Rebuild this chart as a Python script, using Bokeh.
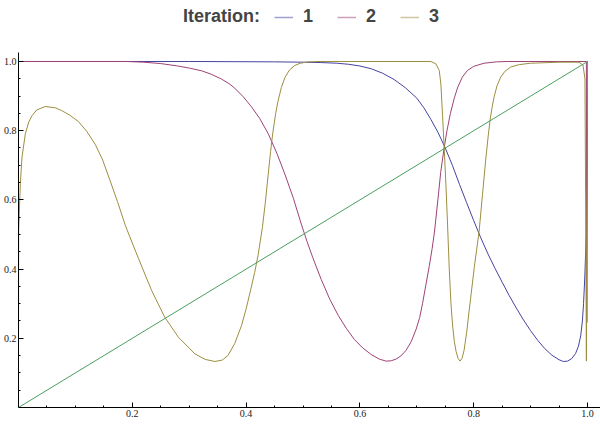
from bokeh.plotting import figure
from bokeh.models import Range1d, FixedTicker, Legend, LegendItem
from bokeh.embed import file_html
from bokeh.resources import INLINE

# ---- data ----
series_names = ["1", "2", "3"]

x1 = [0.0, 0.3, 0.45, 0.5, 0.53, 0.56, 0.58, 0.60, 0.62, 0.64, 0.66, 0.68, 0.70, 0.7125,
      0.725, 0.7375, 0.75, 0.7625, 0.775, 0.7875, 0.80, 0.8125, 0.825, 0.8375, 0.85,
      0.8625, 0.875, 0.8875, 0.90, 0.9125, 0.925, 0.9375, 0.95, 0.9575, 0.965, 0.972,
      0.979, 0.984, 0.988, 0.991, 0.993, 0.9953, 0.9977, 0.9992, 1.0]
y1 = [1.0, 1.0, 0.999, 0.998, 0.997, 0.995, 0.992, 0.987, 0.979, 0.966, 0.948, 0.924,
      0.894, 0.866, 0.832, 0.794, 0.75, 0.70, 0.645, 0.592, 0.54, 0.49, 0.444, 0.402,
      0.362, 0.323, 0.287, 0.253, 0.222, 0.194, 0.170, 0.151, 0.138, 0.133, 0.134, 0.141,
      0.156, 0.177, 0.207, 0.25, 0.30, 0.38, 0.5, 0.75, 1.0]

x2 = [0.0, 0.19, 0.22, 0.25, 0.28, 0.30, 0.322, 0.339, 0.357, 0.37, 0.38, 0.395, 0.409,
      0.424, 0.439, 0.454, 0.468, 0.483, 0.497, 0.507, 0.517, 0.532, 0.547, 0.562, 0.576,
      0.59, 0.605, 0.62, 0.634, 0.646, 0.655, 0.6635, 0.672, 0.681, 0.69, 0.699, 0.705,
      0.710, 0.716, 0.722, 0.727, 0.731, 0.737, 0.742, 0.748, 0.753, 0.759, 0.766, 0.772,
      0.78, 0.789, 0.80, 0.818, 0.84, 0.859, 0.998, 0.9988, 1.0]
y2 = [1.0, 1.0, 0.998, 0.994, 0.987, 0.981, 0.973, 0.963, 0.949, 0.936, 0.923, 0.898,
      0.870, 0.835, 0.791, 0.735, 0.675, 0.605, 0.53, 0.48, 0.434, 0.37, 0.313, 0.266,
      0.229, 0.197, 0.172, 0.153, 0.14, 0.134, 0.135, 0.14, 0.149, 0.165, 0.19, 0.227,
      0.26, 0.30, 0.355, 0.41, 0.46, 0.507, 0.60, 0.68, 0.75, 0.80, 0.85, 0.895, 0.926,
      0.955, 0.974, 0.986, 0.995, 0.999, 1.0, 1.0, 0.245, 1.0]

x3 = [0.0, 0.0003, 0.0032, 0.0061, 0.012, 0.018, 0.024, 0.032, 0.047, 0.065, 0.076, 0.09,
      0.105, 0.12, 0.135, 0.148, 0.16, 0.174, 0.188, 0.211, 0.234, 0.257, 0.281, 0.310,
      0.328, 0.345, 0.358, 0.368, 0.38, 0.392, 0.40, 0.408, 0.415, 0.421, 0.4286, 0.4336,
      0.4386, 0.443, 0.447, 0.452, 0.456, 0.462, 0.468, 0.476, 0.485, 0.495, 0.509, 0.53,
      0.7248, 0.7336, 0.7394, 0.7423, 0.7452, 0.7481, 0.7511, 0.754, 0.757, 0.760, 0.763,
      0.766, 0.769, 0.7725, 0.776, 0.7795, 0.783, 0.7875, 0.792, 0.801, 0.8095, 0.8154,
      0.821, 0.8255, 0.8287, 0.832, 0.8357, 0.841, 0.8475, 0.855, 0.865, 0.88, 0.9, 0.95,
      0.985, 0.992, 0.9955, 0.997, 0.998, 0.999, 1.0]
y3 = [0.2, 0.51, 0.647, 0.723, 0.791, 0.825, 0.844, 0.860, 0.870, 0.866, 0.858, 0.845,
      0.827, 0.798, 0.76, 0.715, 0.66, 0.595, 0.525, 0.43, 0.338, 0.261, 0.203, 0.155,
      0.139, 0.133, 0.137, 0.150, 0.185, 0.237, 0.285, 0.34, 0.39, 0.44, 0.52, 0.59,
      0.67, 0.74, 0.795, 0.85, 0.885, 0.925, 0.953, 0.975, 0.988, 0.995, 0.999, 1.0,
      1.0, 0.993, 0.974, 0.935, 0.845, 0.75, 0.645, 0.53, 0.40, 0.30, 0.235,
      0.19, 0.162, 0.142, 0.134, 0.142, 0.165, 0.215, 0.28, 0.405, 0.51, 0.615,
      0.715, 0.785, 0.83, 0.865, 0.897, 0.93, 0.955, 0.972, 0.984, 0.991, 0.995, 0.998,
      0.998, 0.99, 0.95, 0.5, 0.134, 0.6, 1.0]

diag_x = [0.0, 1.0]
diag_y = [0.0, 1.0]

x_ticks = [0.2, 0.4, 0.6, 0.8, 1.0]
x_tick_labels = ["0.2", "0.4", "0.6", "0.8", "1.0"]
y_ticks = [0.2, 0.4, 0.6, 0.8, 1.0]
y_tick_labels = ["0.2", "0.4", "0.6", "0.8", "1.0"]
minor_ticks = [0.05, 0.1, 0.15, 0.25, 0.3, 0.35, 0.45, 0.5, 0.55, 0.65, 0.7, 0.75,
               0.85, 0.9, 0.95]

legend_title = "Iteration:"

# ---- styling ----
C1 = "#45439f"
C2 = "#9e4276"
C3 = "#9c8e40"
CG = "#4a9f5f"

p = figure(width=600, height=424, output_backend="svg", toolbar_location=None,
           x_range=Range1d(0, 1.0228), y_range=Range1d(0, 1.1763),
           min_border_left=17, min_border_right=0, min_border_top=0,
           min_border_bottom=17)
p.title.visible = False
p.outline_line_color = None
p.xgrid.visible = False
p.ygrid.visible = False
p.background_fill_color = "white"
p.border_fill_color = "white"

for ax in (p.xaxis[0], p.yaxis[0]):
    ax.axis_line_color = "black"
    ax.axis_line_width = 1
    ax.major_tick_in = 5
    ax.major_tick_out = 0
    ax.minor_tick_in = 2
    ax.minor_tick_out = 0
    ax.major_tick_line_color = "black"
    ax.minor_tick_line_color = "black"
    ax.major_label_text_font = "Liberation Serif"
    ax.major_label_text_font_size = "10px"
    ax.major_label_text_color = "#1a1a1a"
    ax.major_label_standoff = 2

p.yaxis[0].bounds = (0, 1.026)
p.xaxis[0].ticker = FixedTicker(ticks=x_ticks, minor_ticks=minor_ticks)
p.yaxis[0].ticker = FixedTicker(ticks=y_ticks, minor_ticks=minor_ticks)
p.xaxis[0].major_label_overrides = dict(zip(x_ticks, x_tick_labels))
p.yaxis[0].major_label_overrides = dict(zip(y_ticks, y_tick_labels))

p.line(x1, y1, line_color=C1, line_width=1.0)
p.line(x2, y2, line_color=C2, line_width=1.0)
p.line(x3, y3, line_color=C3, line_width=1.0)
p.line(diag_x, diag_y, line_color=CG, line_width=1.0)

blank = p.line([0.5], [0.5], line_alpha=0)
l1 = p.line([0.5], [0.5], line_color=C1, line_width=1.5, line_alpha=0.5)
l2 = p.line([0.5], [0.5], line_color=C2, line_width=1.5, line_alpha=0.5)
l3 = p.line([0.5], [0.5], line_color=C3, line_width=1.5, line_alpha=0.5)

legend = Legend(items=[LegendItem(label=legend_title, renderers=[blank]),
                       LegendItem(label=series_names[0], renderers=[l1]),
                       LegendItem(label=series_names[1], renderers=[l2]),
                       LegendItem(label=series_names[2], renderers=[l3])],
                orientation="horizontal", location=(136, 380),
                glyph_width=19, glyph_height=20, label_standoff=10, spacing=14,
                padding=0, margin=0, border_line_color=None,
                background_fill_alpha=0,
                label_text_font="Liberation Sans", label_text_font_style="bold",
                label_text_font_size="18px", label_text_color="#444444")
p.add_layout(legend)

open("out.html", "w").write(file_html(p, INLINE))
